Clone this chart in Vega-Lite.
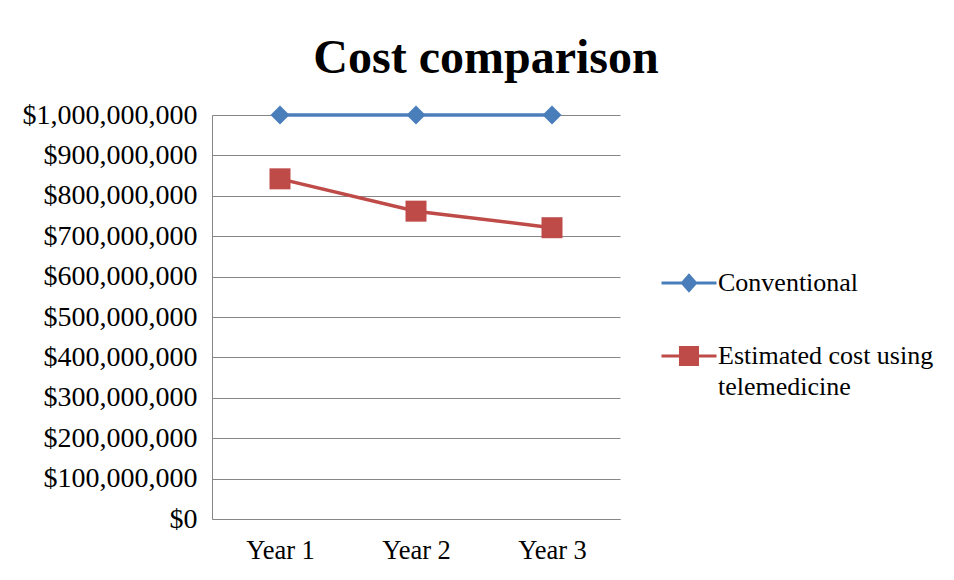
{
  "$schema": "https://vega.github.io/schema/vega-lite/v6.json",
  "width": 408,
  "height": 404,
  "autosize": {"type": "none"},
  "padding": {"left": 212, "top": 115, "right": 334, "bottom": 61},
  "background": "white",
  "config": {
    "view": {"stroke": null},
    "font": "Liberation Serif",
    "style": {"guide-label": {"font": "Liberation Serif", "fill": "black"}},
    "legend": {"labelFont": "Liberation Serif", "labelFontSize": 26, "labelColor": "black"}
  },
  "title": {
    "text": "Cost comparison",
    "anchor": "middle",
    "frame": "group",
    "dx": 70,
    "offset": 18,
    "fontSize": 48,
    "font": "Liberation Serif",
    "fontWeight": "bold",
    "color": "black"
  },
  "data": {
    "values": [
      {"year": "Year 1", "series": "Conventional", "cost": 1000000000},
      {"year": "Year 2", "series": "Conventional", "cost": 1000000000},
      {"year": "Year 3", "series": "Conventional", "cost": 1000000000},
      {"year": "Year 1", "series": "Estimated cost using telemedicine", "cost": 842000000},
      {"year": "Year 2", "series": "Estimated cost using telemedicine", "cost": 762000000},
      {"year": "Year 3", "series": "Estimated cost using telemedicine", "cost": 721000000}
    ]
  },
  "encoding": {
    "x": {
      "field": "year",
      "type": "ordinal",
      "scale": {"type": "point", "padding": 0.5},
      "axis": {
        "title": null,
        "labelAngle": 0,
        "ticks": false,
        "labelPadding": 18,
        "labelFontSize": 26.5,
        "labelFont": "Liberation Serif",
        "labelColor": "black",
        "domainColor": "#868686",
        "grid": false
      }
    },
    "y": {
      "field": "cost",
      "type": "quantitative",
      "scale": {"domain": [0, 1000000000], "nice": false},
      "axis": {
        "title": null,
        "values": [0, 100000000, 200000000, 300000000, 400000000, 500000000, 600000000, 700000000, 800000000, 900000000, 1000000000],
        "format": "$,.0f",
        "labelFontSize": 28,
        "labelFont": "Liberation Serif",
        "labelColor": "black",
        "ticks": false,
        "labelPadding": 15,
        "domainColor": "#868686",
        "gridColor": "#868686",
        "gridWidth": 1
      }
    },
    "color": {
      "field": "series",
      "type": "nominal",
      "scale": {"domain": ["Conventional", "Estimated cost using telemedicine"], "range": ["#4a7ebb", "#be4b48"]},
      "legend": {
        "orient": "none",
        "legendX": 448,
        "legendY": 139,
        "title": null,
        "padding": 0,
        "labelFont": "Liberation Serif",
        "labelFontSize": 26,
        "labelColor": "black",
        "labelLimit": 400,
        "labelOffset": 0,
        "symbolSize": 3025,
        "rowPadding": 30,
        "labelExpr": "datum.label == 'Estimated cost using telemedicine' ? ['Estimated cost using', 'telemedicine'] : datum.label",
        "encoding": {
          "symbols": {
            "shape": {"condition": {"test": "datum.value === 'Conventional'", "value": "M-1,0H1M0,-0.27L0.24,0L0,0.27L-0.24,0Z"}, "value": "M-1,0H1M-0.31,-0.31H0.31V0.31H-0.31Z"},
            "stroke": {"condition": {"test": "datum.value === 'Conventional'", "value": "#4a7ebb"}, "value": "#be4b48"},
            "fill": {"condition": {"test": "datum.value === 'Conventional'", "value": "#4a7ebb"}, "value": "#be4b48"},
            "strokeWidth": {"value": 3},
            "opacity": {"value": 1}
          },
          "labels": {
            "font": {"value": "Liberation Serif"},
            "lineHeight": {"value": 31}
          }
        }
      }
    }
  },
  "layer": [
    {"mark": {"type": "line", "strokeWidth": 3.5}},
    {
      "transform": [{"filter": "datum.series === 'Conventional'"}],
      "mark": {"type": "point", "filled": true, "opacity": 1, "shape": "diamond", "size": 361}
    },
    {
      "transform": [{"filter": "datum.series !== 'Conventional'"}],
      "mark": {"type": "point", "filled": true, "opacity": 1, "shape": "square", "size": 441}
    }
  ]
}
